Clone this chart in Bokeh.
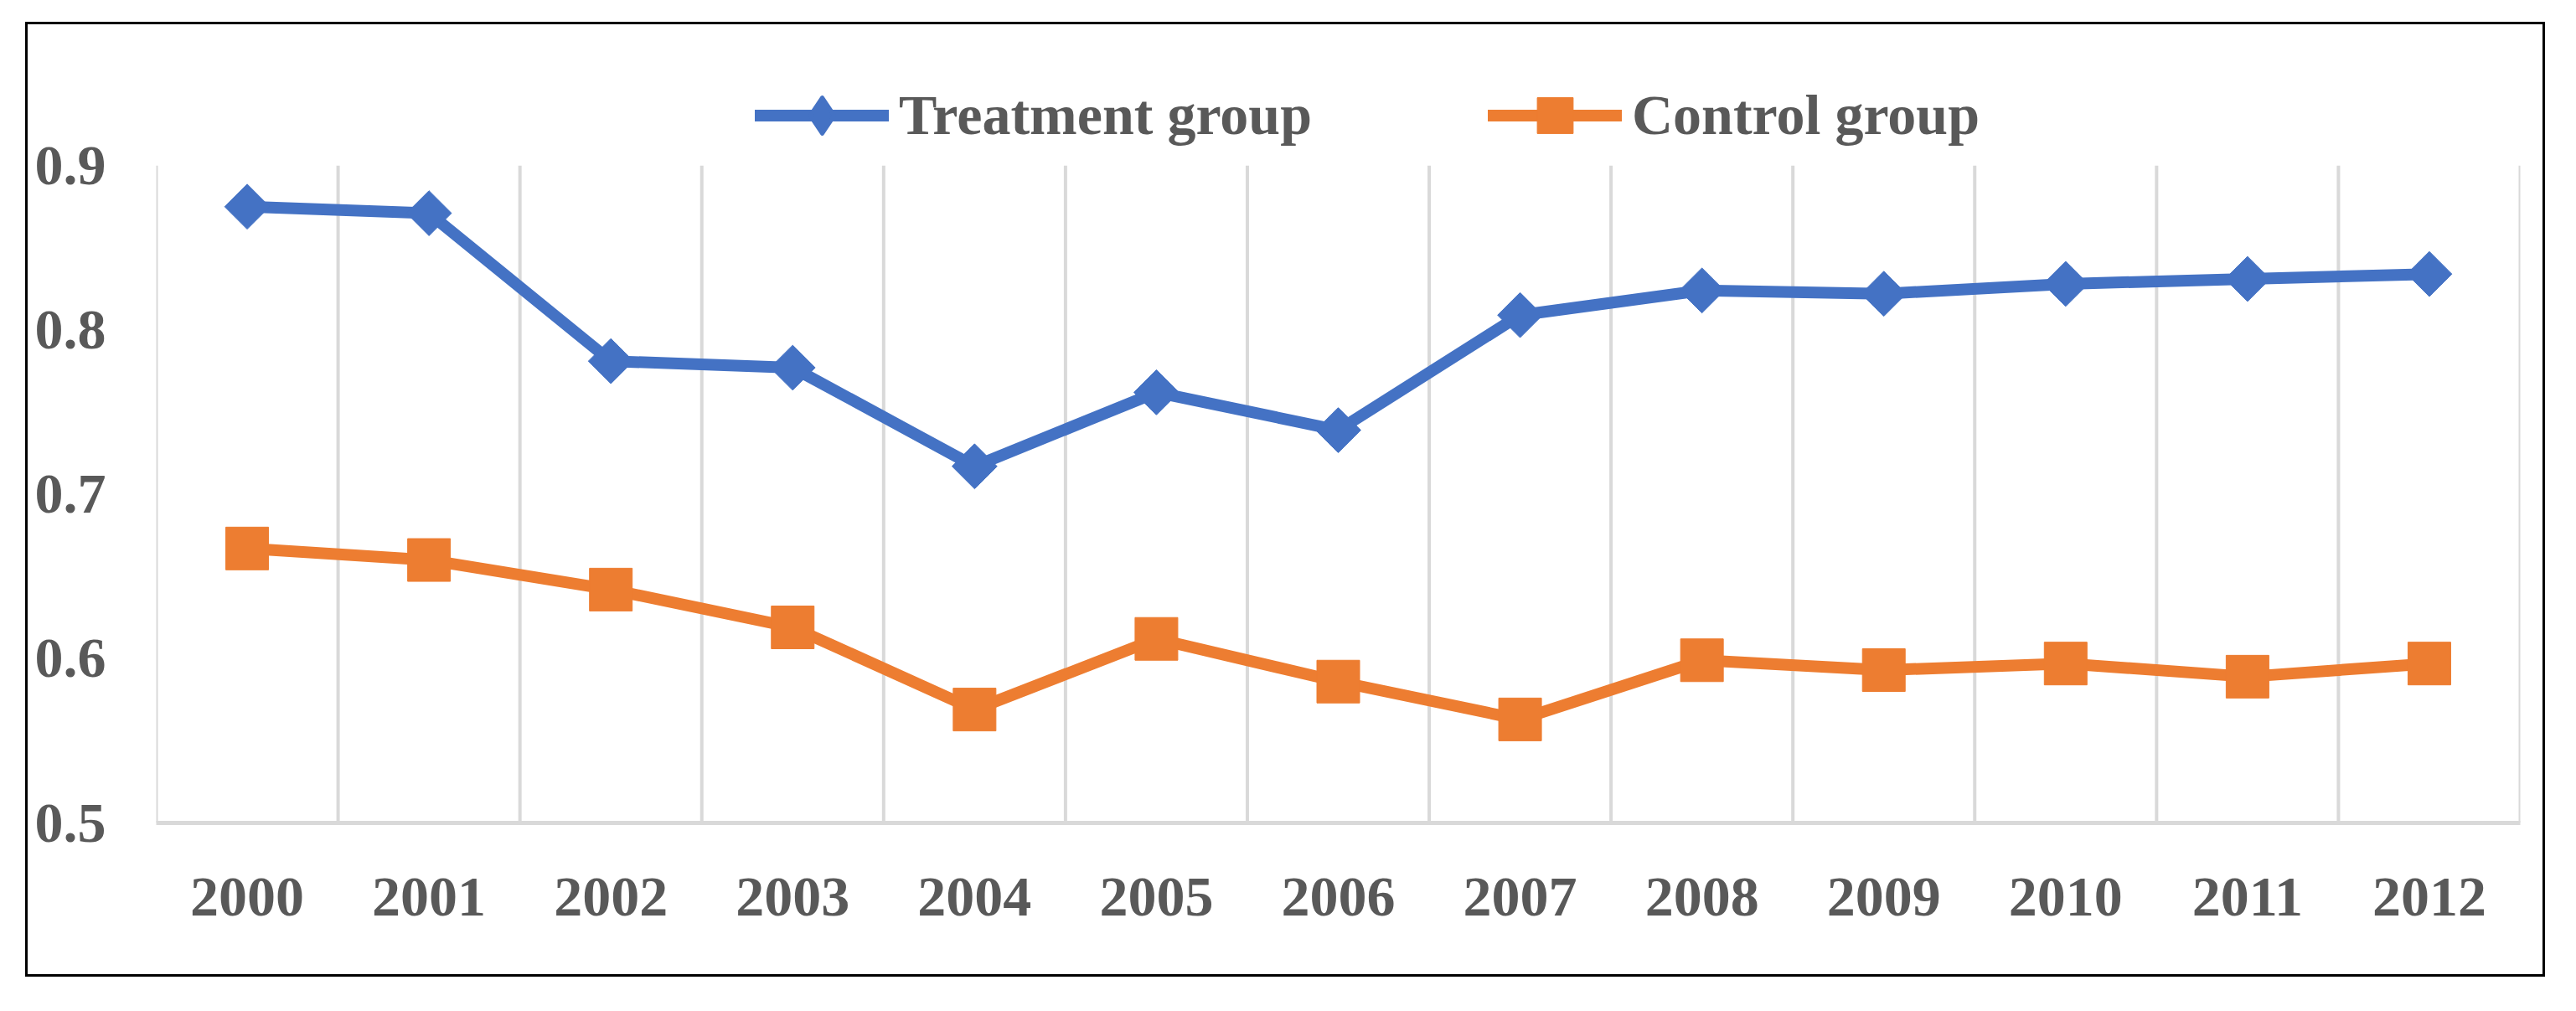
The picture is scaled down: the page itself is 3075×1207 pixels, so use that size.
import math
from bokeh.plotting import figure
from bokeh.models import Range1d, FixedTicker, Legend, LegendItem
from bokeh.embed import file_html
from bokeh.resources import INLINE

years = ["2000", "2001", "2002", "2003", "2004", "2005", "2006",
         "2007", "2008", "2009", "2010", "2011", "2012"]
treatment = [0.875, 0.871, 0.781, 0.777, 0.717, 0.762, 0.739,
             0.809, 0.824, 0.822, 0.828, 0.831, 0.834]
control = [0.667, 0.660, 0.642, 0.619, 0.569, 0.612, 0.586,
           0.563, 0.599, 0.593, 0.597, 0.589, 0.597]
y_ticks = [0.5, 0.6, 0.7, 0.8, 0.9]

BLUE = "#4472C4"
ORANGE = "#ED7D31"
TXT = "#595959"
GRID = "#D9D9D9"
FONT = "'Liberation Serif', 'Times New Roman', serif"

xs = list(range(len(years)))
n = len(years)

# frame extends above the 0.9 line so the legend can sit in the plot area
p = figure(width=3008, height=1140,
           x_range=Range1d(-0.5, n - 0.5), y_range=Range1d(0.5, 0.975),
           output_backend="svg", toolbar_location=None,
           min_border_left=153, min_border_right=33,
           min_border_top=21, min_border_bottom=187)
p.styles = {"margin-left": "30px", "margin-top": "26px",
            "border": "3px solid #000000"}
p.outline_line_color = None
p.background_fill_color = "white"

p.xgrid.visible = False
p.ygrid.visible = False

# vertical category separators, from the bottom to the top tick
bounds = [i - 0.5 for i in range(n + 1)]
p.segment(x0=bounds, y0=[y_ticks[0]] * len(bounds),
          x1=bounds, y1=[y_ticks[-1]] * len(bounds),
          line_color=GRID, line_width=4)

p.yaxis.ticker = FixedTicker(ticks=y_ticks)
p.yaxis.axis_line_color = None
p.yaxis.major_tick_line_color = None
p.yaxis.minor_tick_line_color = None
p.yaxis.major_label_standoff = 54
p.yaxis.major_label_text_font = FONT
p.yaxis.major_label_text_font_style = "bold"
p.yaxis.major_label_text_font_size = "68px"
p.yaxis.major_label_text_color = TXT

p.xaxis.ticker = FixedTicker(ticks=xs)
p.xaxis.major_label_overrides = {i: y for i, y in zip(xs, years)}
p.xaxis.axis_line_color = GRID
p.xaxis.axis_line_width = 5
p.xaxis.major_tick_line_color = None
p.xaxis.minor_tick_line_color = None
p.xaxis.major_label_standoff = 60
p.xaxis.major_label_text_font = FONT
p.xaxis.major_label_text_font_style = "bold"
p.xaxis.major_label_text_font_size = "68px"
p.xaxis.major_label_text_color = TXT

t_line = p.line(xs, treatment, line_color=BLUE, line_width=14,
                line_join="round", line_cap="round")
t_pts = p.scatter(xs, treatment, marker="square", angle=math.pi / 4,
                  size=38, fill_color=BLUE, line_color=BLUE)
c_line = p.line(xs, control, line_color=ORANGE, line_width=14,
                line_join="round", line_cap="round")
c_pts = p.scatter(xs, control, marker="square", size=51,
                  fill_color=ORANGE, line_color=ORANGE)
# legend-only marker (kept outside the visible range)
t_leg = p.scatter([-10], [0], marker="diamond", size=40,
                  fill_color=BLUE, line_color=BLUE, line_width=5,
                  line_join="round")

legend = Legend(items=[LegendItem(label="Treatment group", renderers=[t_line, t_leg]),
                       LegendItem(label="Control group", renderers=[c_line, c_pts])],
                orientation="horizontal", location=(715, 791),
                glyph_width=160, glyph_height=107, label_standoff=12,
                spacing=210, padding=0, margin=0,
                border_line_color=None, background_fill_alpha=0,
                label_text_font=FONT, label_text_font_style="bold",
                label_text_font_size="68px", label_text_color=TXT,
                label_text_baseline="middle")
p.add_layout(legend)

open("out.html", "w").write(file_html(p, INLINE))
